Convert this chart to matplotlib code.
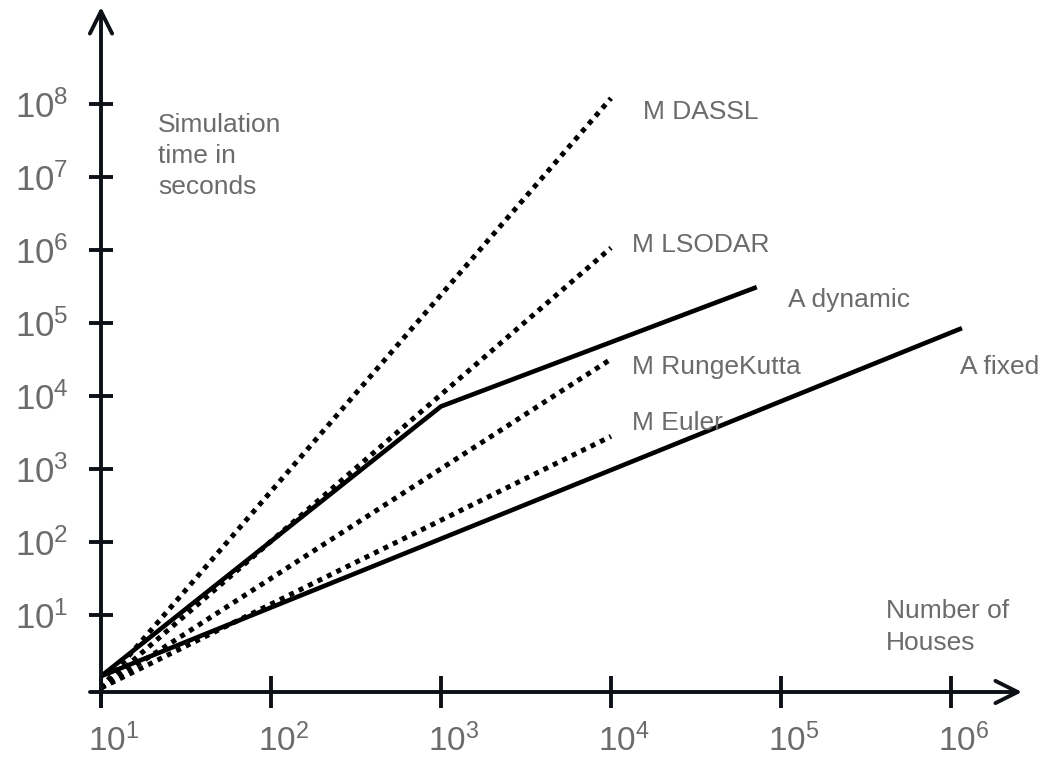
import numpy as np
import matplotlib
matplotlib.use("Agg")
import matplotlib.pyplot as plt
import matplotlib.transforms as mtransforms

plt.rcParams['font.family'] = ['Liberation Sans', 'DejaVu Sans']
plt.rcParams['mathtext.default'] = 'regular'

# series values (houses, seconds)
dassl_x = [1e1, 1e4]
dassl_y = [1.0, 1.2e8]
lsodar_x = [1e1, 1e4]
lsodar_y = [1.0, 1.07e6]
rk_x = [1e1, 1e4]
rk_y = [1.0, 3.2e4]
euler_x = [1e1, 1e4]
euler_y = [1.0, 2.8e3]
adyn_x = [1e1, 1e3, 7.2e4]
adyn_y = [1.45, 7.2e3, 3.1e5]
afix_x = [1e1, 1.16e6]
afix_y = [1.45, 8.5e4]

xticks = [1e1, 1e2, 1e3, 1e4, 1e5, 1e6]
xtick_labels = ['$10^{1}$', '$10^{2}$', '$10^{3}$', '$10^{4}$', '$10^{5}$', '$10^{6}$']
yticks = [1e1, 1e2, 1e3, 1e4, 1e5, 1e6, 1e7, 1e8]
ytick_labels = ['$10^{%d}$' % i for i in range(1, 9)]

W, H = 1048, 764
gray = '#6b6b6b'
axcol = '#0d1117'

fig = plt.figure(figsize=(W / 100, H / 100), dpi=100)
ax = fig.add_axes([90 / W, (H - 705) / H, (1022 - 90) / W, (705 - 7) / H])
ax.set_xscale('log'); ax.set_yscale('log')
xlo, xhi = 10 ** (1 - 11 / 170), 10 ** (1 + 921 / 170)
ylo, yhi = 10 ** (-17 / 73), 10 ** (681 / 73)
ax.set_xlim(xlo, xhi); ax.set_ylim(ylo, yhi)
ax.patch.set_visible(False)

yaxis_at = 10 ** (-4 / 73)
ax.spines['bottom'].set_position(('data', yaxis_at))
ax.spines['left'].set_position(('data', 10))
for s in ax.spines.values():
    s.set_visible(False)

# axis arrows
arrow = dict(arrowstyle='->, head_length=0.4, head_width=0.2', lw=2.8, color=axcol,
             shrinkA=0, shrinkB=0, mutation_scale=40)
ax.annotate('', xy=(xhi, yaxis_at), xytext=(xlo, yaxis_at), arrowprops=arrow, annotation_clip=False)
ax.annotate('', xy=(10, yhi), xytext=(10, ylo), arrowprops=arrow, annotation_clip=False)

ax.set_xticks(xticks); ax.set_xticklabels(xtick_labels)
ax.set_yticks(yticks); ax.set_yticklabels(ytick_labels)
ax.minorticks_off()
ax.tick_params(axis='x', direction='inout', length=23, width=2.8, color=axcol,
               labelsize=24, labelcolor=gray, pad=11)
ax.tick_params(axis='y', direction='inout', length=17, width=2.8, color=axcol,
               labelsize=25, labelcolor=gray, pad=15)
off = mtransforms.ScaledTranslation(9 / 72, 0, fig.dpi_scale_trans)
for lab in ax.get_xticklabels():
    lab.set_transform(lab.get_transform() + off)

for xs, ys in [(dassl_x, dassl_y), (lsodar_x, lsodar_y), (rk_x, rk_y), (euler_x, euler_y)]:
    ax.plot(xs, ys, color='black', lw=3.6, linestyle=(0, (1, 1.1)), dash_capstyle='butt', clip_on=False)
for xs, ys in [(adyn_x, adyn_y), (afix_x, afix_y)]:
    ax.plot(xs, ys, color='black', lw=3.3, solid_capstyle='butt', solid_joinstyle='miter', clip_on=False)

# text labels in pixel layout (left x, center y)
labels = [
    ("Simulation\ntime in\nseconds", 158, 156),
    ("M DASSL", 643, 112),
    ("M LSODAR", 632, 245),
    ("A dynamic", 788, 300),
    ("M RungeKutta", 632, 367),
    ("A fixed", 960, 367),
    ("M Euler", 632, 423),
    ("Number of\nHouses", 886, 627),
]
for txt, px, py in labels:
    fig.text(px / W, 1 - py / H, txt, fontsize=19, color=gray, ha='left', va='center',
             linespacing=1.38)

fig.savefig('out.png', dpi=100)
